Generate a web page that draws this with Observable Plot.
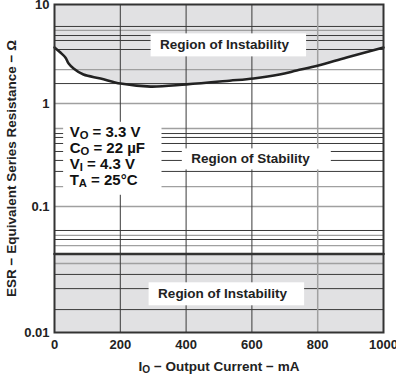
<!DOCTYPE html>
<html>
<head>
<meta charset="utf-8">
<script src="https://cdn.jsdelivr.net/npm/d3@7"></script>
<script src="https://cdn.jsdelivr.net/npm/@observablehq/plot@0.6"></script>
<style>
  html, body { margin: 0; padding: 0; background: #fff; }
</style>
</head>
<body>
<div id="chart"></div>
<script>
// ---- data ----
const xTicks = [0, 200, 400, 600, 800, 1000];
const yTicks = [0.01, 0.1, 1, 10];

// upper stability boundary (ESR, ohm) vs output current (mA)
const currentMA = [0, 18, 33, 43, 58, 88, 140, 201, 292, 401, 532, 605, 684, 736, 802, 888, 1000];
const esrUpper  = [3.68, 3.27, 2.92, 2.54, 2.26, 1.96, 1.79, 1.59, 1.48, 1.56, 1.70, 1.79, 1.96, 2.15, 2.42, 2.92, 3.68];

// lower stability boundary
const lowerMA  = [0, 1000];
const esrLower = [0.042, 0.042];

// horizontal grid lines as printed on the original chart
const gridDarkY  = [1.59, 3.51, 4.33, 4.86, 6.0, 0.219, 0.280, 0.342, 0.409, 0.468, 0.511, 0.0152, 0.0223, 0.0289, 0.0547, 0.0645];
const gridLightY = [1, 2.20, 5.47, 0.1, 0.156, 0.572, 0.0353, 0.0490, 0.0589];
const gridDarkX  = [200, 400, 600];
const gridLightX = [800];

// annotations
const regionLabels = [
  {text: "Region of Instability", mA: 517, esr: 3.94},
  {text: "Region of Stability",   mA: 596, esr: 0.292},
  {text: "Region of Instability", mA: 511, esr: 0.0204}
];
const conditionLabels = [
  {text: "V{O} = 3.3 V",  mA: 46, esr: 0.523},
  {text: "C{O} = 22 µF",  mA: 46, esr: 0.366},
  {text: "V{I} = 4.3 V",  mA: 46, esr: 0.256},
  {text: "T{A} = 25°C",   mA: 46, esr: 0.179}
];
const xTitle = ["I{O} − Output Current − mA"];
const yTitle = ["ESR − Equivalent Series Resistance − Ω"];

// ---- build tables ----
const upper = currentMA.map((c, i) => ({mA: c, esr: esrUpper[i]}));
const lower = lowerMA.map((c, i) => ({mA: c, esr: esrLower[i]}));
const esrMin = yTicks[0];
const esrMax = yTicks[yTicks.length - 1];

const fillGray = "#e1e1e3";
const dark = "#3a3a3a";
const light = "#a0a0a0";

const plot = Plot.plot({
  width: 396,
  height: 376,
  marginLeft: 54,
  marginRight: 13,
  marginTop: 4,
  marginBottom: 44,
  style: {fontFamily: "'Liberation Sans', Arial, Helvetica, sans-serif", fontSize: "13px", fontWeight: "bold", color: "#222", background: "#fff"},
  x: {domain: [0, 1000], ticks: xTicks, tickSize: 0, tickPadding: 7, tickFormat: d => String(d), label: null},
  y: {type: "log", domain: [0.01, 0.1, 1, 10], range: [332, 206, 103, 4], ticks: yTicks, tickSize: 0, tickPadding: 5, tickFormat: d => String(d), label: null},
  marks: [
    Plot.areaY(upper, {x: "mA", y1: "esr", y2: () => esrMax, curve: "catmull-rom", fill: fillGray}),
    Plot.areaY(lower, {x: "mA", y1: () => esrMin, y2: "esr", fill: fillGray}),
    Plot.ruleY(gridLightY, {stroke: light, strokeWidth: 1.3}),
    Plot.ruleY(gridDarkY, {stroke: dark, strokeWidth: 1}),
    Plot.ruleX(gridLightX, {stroke: light, strokeWidth: 1.5}),
    Plot.ruleX(gridDarkX, {stroke: dark, strokeWidth: 1}),
    Plot.text(regionLabels, {x: "mA", y: "esr", text: "text", fontSize: 13.5, fill: "#222", textAnchor: "middle", lineAnchor: "middle"}),
    Plot.text(conditionLabels, {x: "mA", y: "esr", text: "text", fontSize: 15, fill: "#111", textAnchor: "start", lineAnchor: "middle"}),
    Plot.line(upper, {x: "mA", y: "esr", curve: "catmull-rom", stroke: "#222", strokeWidth: 2.6}),
    Plot.line(lower, {x: "mA", y: "esr", stroke: "#333", strokeWidth: 2.6}),
    Plot.frame({stroke: "#333", strokeWidth: 2}),
    Plot.text(xTitle, {frameAnchor: "bottom", dy: 34, text: d => d, textAnchor: "middle", lineAnchor: "middle", fontSize: 13.5, fill: "#222"}),
    Plot.text(yTitle, {frameAnchor: "left", dx: -43, rotate: -90, text: d => d, textAnchor: "middle", lineAnchor: "middle", fontSize: 13.5, fill: "#222"})
  ]
});

document.getElementById("chart").appendChild(plot);

// subscripts: "X{S}" -> X with subscript S
const svg = plot.tagName.toLowerCase() === "svg" ? plot : plot.querySelector("svg");
const ns = "http://www.w3.org/2000/svg";
svg.querySelectorAll("text").forEach(t => {
  const s = t.textContent;
  if (!/\{\w\}/.test(s)) return;
  const parts = s.split(/\{(\w)\}/);
  t.textContent = "";
  parts.forEach((p, i) => {
    if (!p) return;
    if (i % 2 === 1) {
      const ts = document.createElementNS(ns, "tspan");
      ts.setAttribute("baseline-shift", "-0.18em");
      ts.setAttribute("font-size", "0.75em");
      ts.textContent = p;
      t.appendChild(ts);
    } else {
      t.appendChild(document.createTextNode(p));
    }
  });
});

// white boxes behind annotations
function boxBehind(textEls, padL, padR, padT, padB) {
  if (!textEls.length) return;
  const sr = svg.getBoundingClientRect();
  let x0 = Infinity, y0 = Infinity, x1 = -Infinity, y1 = -Infinity;
  textEls.forEach(t => {
    const b = t.getBoundingClientRect();
    x0 = Math.min(x0, b.left - sr.left); y0 = Math.min(y0, b.top - sr.top);
    x1 = Math.max(x1, b.right - sr.left); y1 = Math.max(y1, b.bottom - sr.top);
  });
  const r = document.createElementNS(ns, "rect");
  r.setAttribute("x", x0 - padL);
  r.setAttribute("y", y0 - padT);
  r.setAttribute("width", x1 - x0 + padL + padR);
  r.setAttribute("height", y1 - y0 + padT + padB);
  r.setAttribute("fill", "#fff");
  const g = textEls[0].parentNode;
  g.insertBefore(r, g.firstChild);
}
const allText = Array.from(svg.querySelectorAll("text"));
const regionEls = allText.filter(t => /^Region of/.test(t.textContent));
regionEls.forEach(t => {
  if (/ Stability$/.test(t.textContent)) boxBehind([t], 10, 20, 3, 3);
  else boxBehind([t], 10, 16, 4, 4);
});
const condEls = allText.filter(t => /= /.test(t.textContent));
boxBehind(condEls, 7, 16, 2, 5);
</script>
</body>
</html>
